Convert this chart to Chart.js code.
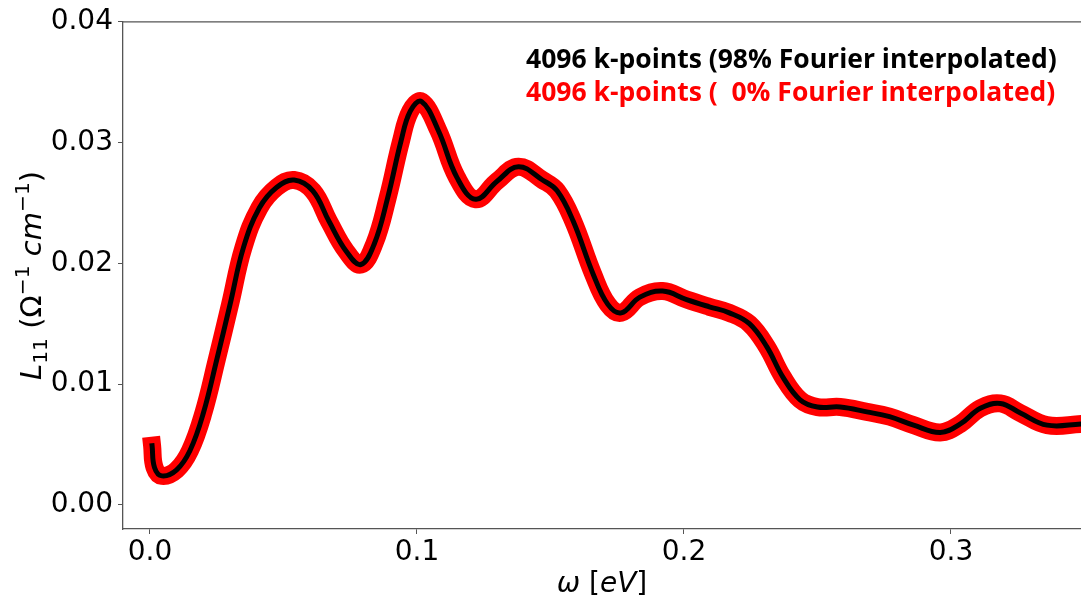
<!DOCTYPE html>
<html>
<head>
<meta charset="utf-8">
<script src="https://cdn.jsdelivr.net/npm/chart.js@4.4.0/dist/chart.umd.min.js"></script>
<style>
  body { margin: 0; background: #fff; }
  #wrap { width: 1081px; height: 606px; }
</style>
</head>
<body>
<div id="wrap"><canvas id="l11Chart"></canvas></div>
<script>
// photon energy (eV)
const omega = [
  0.0008, 0.0017, 0.0045, 0.0100, 0.0150, 0.0200, 0.0250, 0.0300, 0.0350, 0.0410,
  0.0475, 0.0540, 0.0610, 0.0670, 0.0735, 0.0790, 0.0840, 0.0890, 0.0940, 0.0975,
  0.1017, 0.1080, 0.1150, 0.1220, 0.1300, 0.1380, 0.1470, 0.1525, 0.1585, 0.1660,
  0.1715, 0.1765, 0.1835, 0.1920, 0.2010, 0.2095, 0.2170, 0.2245, 0.2310, 0.2370,
  0.2435, 0.2500, 0.2585, 0.2685, 0.2770, 0.2860, 0.2960, 0.3035, 0.3110, 0.3185,
  0.3260, 0.3360, 0.3490
];
// L11 with 98% of the k-points Fourier interpolated
const l11Interp = [
  0.0049, 0.0031, 0.0024, 0.0029, 0.0045, 0.0076, 0.0120, 0.0166, 0.0213, 0.0246,
  0.0263, 0.0269, 0.0260, 0.0235, 0.0210, 0.0199, 0.0216, 0.0254, 0.0301, 0.0326,
  0.0334, 0.0310, 0.0271, 0.0253, 0.0268, 0.0280, 0.0269, 0.0260, 0.0235, 0.0191,
  0.0166, 0.0159, 0.0172, 0.0177, 0.0170, 0.0164, 0.0159, 0.0150, 0.0131, 0.0106,
  0.0087, 0.0081, 0.0081, 0.0077, 0.0073, 0.0066, 0.0060, 0.0067, 0.0080, 0.0084,
  0.0076, 0.0066, 0.0067
];
// L11 computed directly on all 4096 k-points
const l11Direct = [
  0.0049, 0.0031, 0.0024, 0.0029, 0.0045, 0.0076, 0.0120, 0.0166, 0.0213, 0.0246,
  0.0263, 0.0269, 0.0260, 0.0235, 0.0210, 0.0199, 0.0216, 0.0254, 0.0301, 0.0326,
  0.0334, 0.0310, 0.0271, 0.0253, 0.0268, 0.0280, 0.0269, 0.0260, 0.0235, 0.0191,
  0.0166, 0.0159, 0.0172, 0.0177, 0.0170, 0.0164, 0.0159, 0.0150, 0.0131, 0.0106,
  0.0087, 0.0081, 0.0081, 0.0077, 0.0073, 0.0066, 0.0060, 0.0067, 0.0080, 0.0084,
  0.0076, 0.0066, 0.0067
];
const xTicks = [0.0, 0.1, 0.2, 0.3];
const yTicks = [0.00, 0.01, 0.02, 0.03, 0.04];
const seriesLabels = [
  "4096 k-points (98% Fourier interpolated)",
  "4096 k-points (  0% Fourier interpolated)"
];
const seriesColors = ["#000000", "#ff0000"];

const tickFont = { family: "'DejaVu Sans'", size: 28 };
const axisColor = "#555555";

function toPoints(xs, ys) {
  return xs.map((x, i) => ({ x: x, y: ys[i] }));
}

// draws a run of text pieces (italic / sub / superscript) starting at x, on baseline y
function drawPieces(ctx, pieces, size, x, y) {
  pieces.forEach(p => {
    const s = size * (p.scale || 1);
    ctx.font = (p.italic ? "italic " : "") + s + "px 'DejaVu Sans'";
    ctx.fillText(p.t, x, y + (p.shift || 0) * size);
    x += ctx.measureText(p.t).width;
  });
}
function piecesWidth(ctx, pieces, size) {
  let w = 0;
  pieces.forEach(p => {
    const s = size * (p.scale || 1);
    ctx.font = (p.italic ? "italic " : "") + s + "px 'DejaVu Sans'";
    w += ctx.measureText(p.t).width;
  });
  return w;
}

const yTitle = [
  { t: "L", italic: true },
  { t: "11", scale: 0.7, shift: 0.22 },
  { t: " (Ω" },
  { t: "−1", scale: 0.7, shift: -0.42 },
  { t: " " },
  { t: "cm", italic: true },
  { t: "−1", scale: 0.7, shift: -0.42 },
  { t: ")" }
];
const xTitle = [
  { t: "ω", italic: true },
  { t: " [" },
  { t: "eV", italic: true },
  { t: "]" }
];

const annotations = {
  id: "annotations",
  afterDraw(chart) {
    const ctx = chart.ctx;
    const area = chart.chartArea;
    ctx.save();

    // top spine
    ctx.strokeStyle = axisColor;
    ctx.lineWidth = 1.3;
    ctx.beginPath();
    ctx.moveTo(area.left, area.top);
    ctx.lineTo(area.right, area.top);
    ctx.stroke();

    ctx.fillStyle = "#000";
    ctx.textAlign = "left";
    ctx.textBaseline = "alphabetic";

    // x axis title
    const xw = piecesWidth(ctx, xTitle, 28);
    drawPieces(ctx, xTitle, 28, (area.left + area.right) / 2 - xw / 2, 592);

    // y axis title, rotated
    ctx.save();
    ctx.translate(31, (area.top + area.bottom) / 2);
    ctx.rotate(-Math.PI / 2);
    const yw = piecesWidth(ctx, yTitle, 29);
    drawPieces(ctx, yTitle, 29, -yw / 2, 10);
    ctx.restore();

    // series labels in the upper right
    let size = 23;
    ctx.font = "bold " + size + "px 'Open Sans'";
    size = size * 531 / ctx.measureText(seriesLabels[0]).width;
    ctx.font = "bold " + size + "px 'Open Sans'";
    seriesLabels.forEach((label, i) => {
      ctx.fillStyle = seriesColors[i];
      ctx.fillText(label, 526, 68 + i * 33);
    });
    ctx.restore();
  }
};

const ctx = document.getElementById("l11Chart").getContext("2d");
const l11Chart = new Chart(ctx, {
  type: "line",
  data: {
    datasets: [
      {
        label: seriesLabels[0],
        data: toPoints(omega, l11Interp),
        borderColor: seriesColors[0],
        borderWidth: 5,
        order: 0
      },
      {
        label: seriesLabels[1],
        data: toPoints(omega, l11Direct),
        borderColor: seriesColors[1],
        borderWidth: 18,
        order: 1
      }
    ]
  },
  options: {
    responsive: true,
    maintainAspectRatio: false,
    animation: false,
    layout: { padding: { top: 20, right: 0, bottom: 0, left: 0 } },
    elements: {
      point: { radius: 0 },
      line: { tension: 0.4, borderCapStyle: "square", fill: false }
    },
    scales: {
      x: {
        type: "linear",
        min: -0.0101,
        max: 0.3487,
        afterBuildTicks: (scale) => { scale.ticks = xTicks.map(v => ({ value: v })); },
        afterFit: (scale) => { scale.height = 77; },
        ticks: {
          font: tickFont,
          color: "#000",
          padding: 2,
          maxRotation: 0,
          callback: (v) => v.toFixed(1)
        },
        grid: { drawOnChartArea: false, tickLength: 5, color: axisColor },
        border: { color: axisColor, width: 1.3 }
      },
      y: {
        min: -0.002,
        max: 0.04,
        afterBuildTicks: (scale) => { scale.ticks = yTicks.map(v => ({ value: v })); },
        afterFit: (scale) => { scale.width = 123; },
        ticks: {
          font: tickFont,
          color: "#000",
          padding: 5,
          callback: (v) => v.toFixed(2)
        },
        grid: { drawOnChartArea: false, tickLength: 5, color: axisColor },
        border: { color: axisColor, width: 1.3 }
      }
    },
    plugins: {
      legend: { display: false },
      tooltip: { enabled: false }
    }
  },
  plugins: [annotations]
});
</script>
</body>
</html>
